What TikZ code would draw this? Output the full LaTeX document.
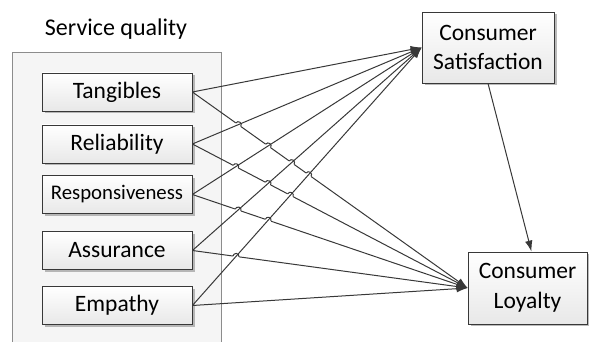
\documentclass[tikz,border=0pt]{standalone}
\usepackage{fontspec}
\setmainfont{Carlito}
\usetikzlibrary{arrows.meta,shadows,calc}
\definecolor{edgegray}{HTML}{383838}
\tikzset{
  box/.style={draw=edgegray, line width=0.8pt, top color=white, bottom color=black!9,
    minimum width=150pt, minimum height=38pt, inner sep=0pt,
    font=\fontsize{23.5}{28}\selectfont, text=black,
    drop shadow={shadow xshift=2.5pt, shadow yshift=-2.5pt, fill=black!45, opacity=0.6}},
  bigbox/.style={box, align=center, font=\fontsize{23.5}{29.5}\selectfont},
  conn/.style={draw=edgegray, line width=1pt},
  arr/.style={conn, -{Latex[length=11pt,width=7.5pt]}},
  eraser/.style={draw=white, line width=2.8pt},
}
\begin{document}
\begin{tikzpicture}[x=1pt,y=1pt]
\useasboundingbox (0,0) rectangle (589,342);
% outer group box
\draw[draw=black!45, fill=black!4, line width=0.8pt] (12,-5) rectangle (221,290);
\node[anchor=base, font=\fontsize{24}{28}\selectfont, text=black] (title) at (116,306) {Service quality};
% source boxes
\node[box] (s1) at (117,250) {Tangibles};
\node[box] (s2) at (117,198) {Reliability};
\node[box, font=\fontsize{20.8}{25}\selectfont] (s3) at (117,147.5) {Responsiveness};
\node[box] (s4) at (117,91.5) {Assurance};
\node[box] (s5) at (117,36.5) {Empathy};
% targets
\node[bigbox, minimum width=132pt, minimum height=71pt] (cs) at (488,294.5) {Consumer\\Satisfaction};
\node[bigbox, minimum width=119pt, minimum height=72pt] (cl) at (527.5,54) {Consumer\\Loyalty};
% lines to loyalty
\foreach \i in {1,...,5} \draw[arr] (s\i.east) -- (cl.west);
% crossing points and gaps
\foreach \i/\k in {1/2,2/3,3/4,4/5}{
  \foreach \j in {\k,...,5}{
    \coordinate (x\i\j) at (intersection of s\j.east--cs.west and s\i.east--cl.west);
    \path let \p1=(s\i.east), \p2=(cl.west), \n1={atan2(\y2-\y1,\x2-\x1)} in
      (x\i\j) ++(\n1+180:3pt) coordinate (a\i\j)
      (x\i\j) ++(\n1:3pt) coordinate (b\i\j);
    \draw[eraser] (a\i\j) -- (b\i\j);
  }
}
% lines to satisfaction
\foreach \j in {1,...,5} \draw[arr] (s\j.east) -- (cs.west);
% line hops
\foreach \i/\k in {1/2,2/3,3/4,4/5}{
  \foreach \j in {\k,...,5}{
    \draw[conn] let \p1=(s\i.east), \p2=(cl.west), \n1={atan2(\y2-\y1,\x2-\x1)} in
      (a\i\j) arc[start angle=\n1+180, end angle=\n1, radius=3pt];
  }
}
% satisfaction -> loyalty
\draw[arr] (cs.south) -- ([xshift=4pt]cl.north);
\end{tikzpicture}
\end{document}
